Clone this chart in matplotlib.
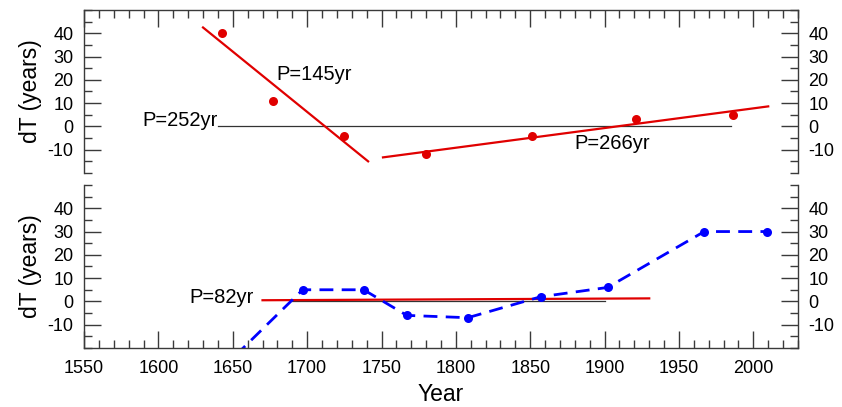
import numpy as np
import matplotlib
matplotlib.use("Agg")
import matplotlib.pyplot as plt
from matplotlib.ticker import MultipleLocator, FixedLocator

plt.rcParams['font.family'] = ['Liberation Sans', 'DejaVu Sans']
plt.rcParams['axes.unicode_minus'] = False

# upper panel: timing offsets and two linear fits
top_year = [1643, 1677, 1725, 1780, 1851, 1921, 1986]
top_dt = [40, 11, -4, -12, -4, 3, 5]
fit1_year = [1630, 1741]
fit1_dt = [42.5, -15]
fit2_year = [1751, 2010]
fit2_dt = [-13.3, 8.6]
zero1_year = [1640, 1985]

# lower panel: offsets joined by dashes, one flat fit
bot_year = [1641, 1697, 1738, 1767, 1808, 1857, 1902, 1967, 2009]
bot_dt = [-30, 5, 5, -6, -7, 2, 6, 30, 30]
fit3_year = [1670, 1930]
fit3_dt = [0.5, 1.3]
zero2_year = [1690, 1900]

yticks = [-10, 0, 10, 20, 30, 40]
frame = '#3a3a3a'
red = '#e00000'

fig = plt.figure(figsize=(8.42, 4.07), dpi=100)
ax1 = fig.add_axes([0.0998, 0.575, 0.8479, 0.4004])
ax2 = fig.add_axes([0.0998, 0.145, 0.8479, 0.4005])

for ax in (ax1, ax2):
    ax.set_xlim(1550, 2030)
    ax.set_ylim(-20, 50)
    ax.yaxis.set_major_locator(FixedLocator(yticks))
    ax.yaxis.set_minor_locator(MultipleLocator(5))
    ax.xaxis.set_major_locator(MultipleLocator(50))
    ax.xaxis.set_minor_locator(MultipleLocator(10))
    for s in ax.spines.values():
        s.set_color(frame)
        s.set_linewidth(1.0)
    ax.tick_params(axis='y', which='both', direction='in', left=True, right=True,
                   labelleft=True, labelright=True, color=frame, labelsize=13, pad=7.5)
    ax.tick_params(axis='y', which='major', length=12, width=1.0)
    ax.tick_params(axis='y', which='minor', length=6, width=1.0)
    ax.set_ylabel('dT (years)', fontsize=16.5, labelpad=4)

# upper panel
ax1.spines['bottom'].set_visible(False)
ax1.tick_params(axis='x', which='both', direction='in', top=True, bottom=False,
                labeltop=False, labelbottom=False, color=frame)
ax1.tick_params(axis='x', which='major', length=12, width=1.0)
ax1.tick_params(axis='x', which='minor', length=6, width=1.0)
ax1.plot(zero1_year, [0, 0], color='#333333', lw=0.9)
ax1.plot(fit1_year, fit1_dt, color=red, lw=1.6)
ax1.plot(fit2_year, fit2_dt, color=red, lw=1.6)
ax1.plot(top_year, top_dt, 'o', color=red, ms=6.5, mec='none')
ax1.text(1679, 20, 'P=145yr', fontsize=14.5, ha='left', va='baseline')
ax1.text(1640, 0, 'P=252yr', fontsize=14.5, ha='right', va='baseline')
ax1.text(1880, -9.7, 'P=266yr', fontsize=14.5, ha='left', va='baseline')

# lower panel
ax2.spines['top'].set_visible(False)
ax2.tick_params(axis='x', which='both', direction='in', top=False, bottom=True,
                color=frame, labelsize=13, pad=9)
ax2.tick_params(axis='x', which='major', length=12, width=1.0)
ax2.tick_params(axis='x', which='minor', length=6, width=1.0)
ax2.plot(zero2_year, [0, 0], color='#333333', lw=0.9)
ax2.plot(fit3_year, fit3_dt, color=red, lw=1.6)
ax2.plot(bot_year, bot_dt, '--', color='#0000ff', lw=2.0, dashes=(5, 3),
         marker='o', ms=6.5, mec='none')
ax2.text(1664, -0.5, 'P=82yr', fontsize=14.5, ha='right', va='baseline')
ax2.set_xlabel('Year', fontsize=16.5, labelpad=4)

fig.savefig('out.png', dpi=100)
